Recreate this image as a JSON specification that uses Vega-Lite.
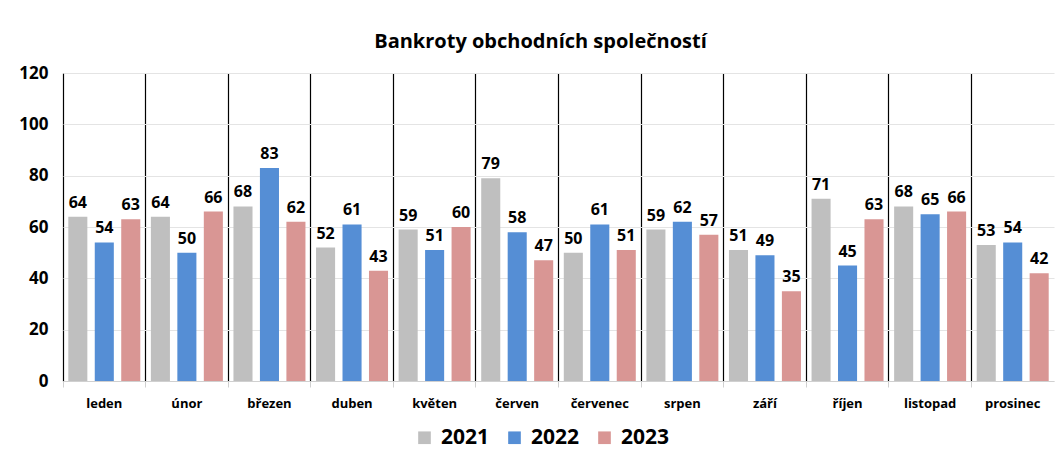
{
  "$schema": "https://vega.github.io/schema/vega-lite/v6.json",
  "autosize": {"type": "none"},
  "padding": {"left": 63, "top": 73, "right": 1, "bottom": 78},
  "width": 991,
  "height": 308,
  "background": "white",
  "title": {
    "text": "Bankroty obchodních společností",
    "font": "Open Sans",
    "fontSize": 20,
    "fontWeight": "bold",
    "color": "#000000",
    "anchor": "middle",
    "dx": -18,
    "offset": 12
  },
  "config": {
    "view": {"stroke": null},
    "font": "Open Sans"
  },
  "data": {
    "values": [
      {"mesic": "leden", "rok": "2021", "pocet": 64},
      {"mesic": "leden", "rok": "2022", "pocet": 54},
      {"mesic": "leden", "rok": "2023", "pocet": 63},
      {"mesic": "únor", "rok": "2021", "pocet": 64},
      {"mesic": "únor", "rok": "2022", "pocet": 50},
      {"mesic": "únor", "rok": "2023", "pocet": 66},
      {"mesic": "březen", "rok": "2021", "pocet": 68},
      {"mesic": "březen", "rok": "2022", "pocet": 83},
      {"mesic": "březen", "rok": "2023", "pocet": 62},
      {"mesic": "duben", "rok": "2021", "pocet": 52},
      {"mesic": "duben", "rok": "2022", "pocet": 61},
      {"mesic": "duben", "rok": "2023", "pocet": 43},
      {"mesic": "květen", "rok": "2021", "pocet": 59},
      {"mesic": "květen", "rok": "2022", "pocet": 51},
      {"mesic": "květen", "rok": "2023", "pocet": 60},
      {"mesic": "červen", "rok": "2021", "pocet": 79},
      {"mesic": "červen", "rok": "2022", "pocet": 58},
      {"mesic": "červen", "rok": "2023", "pocet": 47},
      {"mesic": "červenec", "rok": "2021", "pocet": 50},
      {"mesic": "červenec", "rok": "2022", "pocet": 61},
      {"mesic": "červenec", "rok": "2023", "pocet": 51},
      {"mesic": "srpen", "rok": "2021", "pocet": 59},
      {"mesic": "srpen", "rok": "2022", "pocet": 62},
      {"mesic": "srpen", "rok": "2023", "pocet": 57},
      {"mesic": "září", "rok": "2021", "pocet": 51},
      {"mesic": "září", "rok": "2022", "pocet": 49},
      {"mesic": "září", "rok": "2023", "pocet": 35},
      {"mesic": "říjen", "rok": "2021", "pocet": 71},
      {"mesic": "říjen", "rok": "2022", "pocet": 45},
      {"mesic": "říjen", "rok": "2023", "pocet": 63},
      {"mesic": "listopad", "rok": "2021", "pocet": 68},
      {"mesic": "listopad", "rok": "2022", "pocet": 65},
      {"mesic": "listopad", "rok": "2023", "pocet": 66},
      {"mesic": "prosinec", "rok": "2021", "pocet": 53},
      {"mesic": "prosinec", "rok": "2022", "pocet": 54},
      {"mesic": "prosinec", "rok": "2023", "pocet": 42}
    ]
  },
  "encoding": {
    "x": {
      "field": "mesic",
      "type": "nominal",
      "sort": null,
      "scale": {"paddingInner": 0, "paddingOuter": 0},
      "axis": {
        "title": null,
        "labelAngle": 0,
        "labelFont": "Open Sans",
        "labelFontSize": 13,
        "labelFontWeight": "bold",
        "labelColor": "#000000",
        "labelPadding": 10,
        "bandPosition": 0,
        "grid": true,
        "gridColor": "#000000",
        "gridWidth": 1.2,
        "ticks": true,
        "tickSize": 6,
        "tickColor": "#d0d0d0",
        "domain": true,
        "domainColor": "#d0d0d0"
      }
    },
    "xOffset": {
      "field": "rok",
      "type": "nominal",
      "scale": {"paddingInner": 0.28, "paddingOuter": 0.2}
    },
    "y": {
      "field": "pocet",
      "type": "quantitative",
      "scale": {"domain": [0, 120]},
      "axis": {
        "title": null,
        "values": [0, 20, 40, 60, 80, 100, 120],
        "labelFont": "Open Sans",
        "labelFontSize": 17,
        "labelFontWeight": "bold",
        "labelColor": "#000000",
        "labelPadding": 15,
        "ticks": false,
        "domain": false,
        "grid": true,
        "gridColor": "#e4e4e4",
        "gridWidth": 1.2
      }
    }
  },
  "layer": [
    {
      "mark": {"type": "bar"},
      "encoding": {
        "color": {
          "field": "rok",
          "type": "nominal",
          "scale": {"domain": ["2021", "2022", "2023"], "range": ["#BFBFBF", "#558ED5", "#D99694"]},
          "legend": {
            "title": null,
            "orient": "none",
            "direction": "horizontal",
            "legendX": 351,
            "legendY": 354,
            "symbolType": "square",
            "symbolSize": 160,
            "symbolStrokeWidth": 0,
            "labelFont": "Open Sans",
            "labelFontSize": 21,
            "labelFontWeight": "bold",
            "labelColor": "#000000",
            "columnPadding": 14,
            "labelOffset": 6
          }
        }
      }
    },
    {
      "mark": {
        "type": "text",
        "baseline": "bottom",
        "dy": -6,
        "font": "Open Sans",
        "fontSize": 16,
        "fontWeight": "bold",
        "color": "#000000"
      },
      "encoding": {
        "text": {"field": "pocet", "type": "quantitative"}
      }
    }
  ]
}
